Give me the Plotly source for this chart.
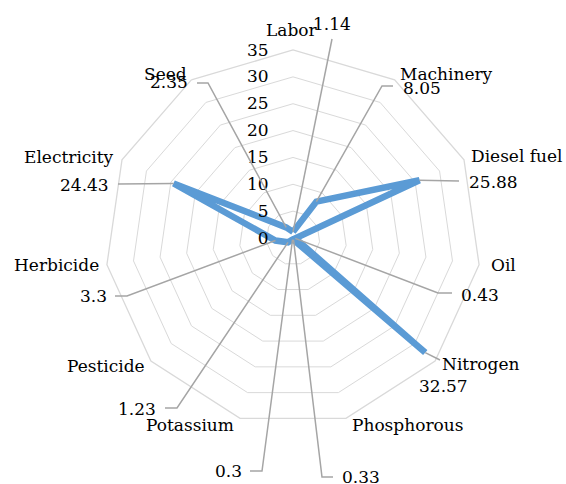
import math
import plotly.graph_objects as go

# ---- data ----
categories = ["Labor", "Machinery", "Diesel fuel", "Oil", "Nitrogen", "Phosphorous",
              "Potassium", "Pesticide", "Herbicide", "Electricity", "Seed"]
values = [1.14, 8.05, 25.88, 0.43, 32.57, 0.33, 0.3, 1.23, 3.3, 24.43, 2.35]
value_labels = ["1.14", "8.05", "25.88", "0.43", "32.57", "0.33", "0.3", "1.23", "3.3", "24.43", "2.35"]
radial_ticks = [0, 5, 10, 15, 20, 25, 30, 35]

# ---- layout geometry (pixels) ----
W, H = 566, 484
CX, CY, R = 293, 238, 188
RMAX = 35

# label placement (pixel centers) for category names and value labels
name_pos = [(292, 30), (447, 74), (517, 156), (503, 265), (480, 364), (407, 425),
            (190, 425), (106, 366), (56, 265), (69, 157), (166, 74)]
val_pos = [(332, 24), (422, 88), (493, 182), (480, 295), (443, 386), (361, 477),
           (228, 471), (137, 409), (93, 296), (84, 185), (169, 82)]
# leader line waypoints after the data point (pixels)
leader_pts = [[(332, 39)],
              [(382, 86), (393, 86)],
              [(459, 181)],
              [(438, 293), (452, 293)],
              [(440, 360)],
              [(322, 477), (333, 477)],
              [(262, 471), (250, 471)],
              [(177, 408), (165, 408)],
              [(127, 296), (115, 296)],
              [(118, 184)],
              [(208, 83), (197, 83)]]

FONT = "DejaVu Serif"
FS = 17
BLUE = "#5B9BD5"
GRID = "#D9D9D9"
LEADER = "#A5A5A5"

fig = go.Figure()

# main series
fig.add_trace(go.Scatterpolar(
    r=values + values[:1], theta=categories + categories[:1],
    mode="lines", line=dict(color=BLUE, width=6.5, shape="linear"),
    subplot="polar", showlegend=False, hoverinfo="skip"))

n = len(categories)


def px_to_paper(px, py):
    return px / W, 1 - py / H


shapes = []
for i, v in enumerate(values):
    ang = math.radians(90 - i * 360 / n)
    rp = v / RMAX * R
    sx, sy = CX + rp * math.cos(ang), CY - rp * math.sin(ang)
    pts = [(sx, sy)] + leader_pts[i]
    path = ""
    for k, (px, py) in enumerate(pts):
        x, y = px_to_paper(px, py)
        path += ("M" if k == 0 else "L") + f"{x:.5f},{y:.5f}"
    shapes.append(dict(type="path", path=path, xref="paper", yref="paper",
                       layer="above", line=dict(color=LEADER, width=1.5)))

annotations = []
for i in range(n):
    for txt, (px, py) in ((categories[i], name_pos[i]), (value_labels[i], val_pos[i])):
        x, y = px_to_paper(px, py)
        annotations.append(dict(
            x=x, y=y, xref="paper", yref="paper", text=txt,
            showarrow=False, xanchor="center", yanchor="middle",
            font=dict(family=FONT, size=FS, color="#000000")))

dom_x = [(CX - R) / W, (CX + R) / W]
dom_y = [(H - CY - R) / H, (H - CY + R) / H]

fig.update_layout(
    width=W, height=H, margin=dict(l=0, r=0, t=0, b=0),
    paper_bgcolor="white", plot_bgcolor="white",
    font=dict(family=FONT, size=FS, color="#000000"),
    showlegend=False,
    annotations=annotations,
    shapes=shapes,
    polar=dict(
        domain=dict(x=dom_x, y=dom_y),
        bgcolor="rgba(0,0,0,0)",
        gridshape="linear",
        angularaxis=dict(type="category", rotation=90, direction="clockwise",
                         showgrid=False, showticklabels=False, ticks="",
                         showline=True, linecolor=GRID, linewidth=1.3),
        radialaxis=dict(range=[0, RMAX], tickvals=radial_ticks, angle=90,
                        tickangle=90,
                        showline=False, ticks="outside", ticklen=18,
                        tickcolor="rgba(0,0,0,0)", side="counterclockwise",
                        gridcolor=GRID, gridwidth=1.3,
                        tickfont=dict(family=FONT, size=FS, color="#000000")),
    ),
)

fig.write_html("out.html", config={"displayModeBar": False},
               post_script="document.body.style.margin='0px';document.body.style.padding='0px';")
